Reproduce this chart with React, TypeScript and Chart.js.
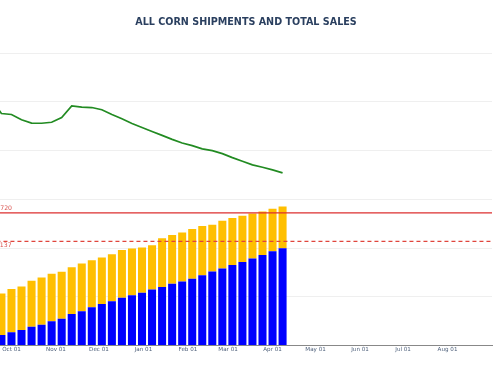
import React, { useEffect, useRef } from "react";
import { Chart, registerables } from "chart.js";

Chart.register(...registerables);

const TITLE = "ALL CORN SHIPMENTS AND TOTAL SALES";

// Weekly report dates (MM-DD) of the marketing year starting Sep 01
const weekDates = [
  "09-24", "10-01", "10-08", "10-15", "10-22", "10-29",
  "11-05", "11-12", "11-19", "11-26",
  "12-03", "12-10", "12-17", "12-24", "12-31",
  "01-07", "01-14", "01-21", "01-28",
  "02-04", "02-11", "02-18", "02-25",
  "03-04", "03-11", "03-18", "03-25",
  "04-01", "04-08",
];

// Accumulated shipments (bottom, blue)
const shipments = [
  219, 274, 321, 388, 429, 498, 552, 648, 703, 784, 852, 907, 981, 1030, 1083,
  1152, 1199, 1267, 1316, 1373, 1444, 1520, 1581, 1655, 1716, 1785, 1859, 1935, 1996,
];

// Total commitments / total sales (top of the stacked bar)
const totalSales = [
  1070, 1158, 1213, 1328, 1397, 1471, 1512, 1608, 1683, 1751, 1806, 1873, 1961, 1990, 2010,
  2057, 2200, 2268, 2317, 2390, 2451, 2480, 2562, 2615, 2664, 2711, 2752, 2807, 2854,
];

// Green line series
const paceDates = ["09-17", ...weekDates];
const paceValues = [
  5040, 4760, 4740, 4632, 4564, 4560, 4580, 4678, 4917, 4891, 4882, 4836, 4740, 4652, 4556,
  4474, 4392, 4311, 4229, 4155, 4100, 4033, 3998, 3937, 3855, 3780, 3706, 3657, 3604, 3542,
];

// Reference levels
const projectionLevel = 2720;
const previousLevel = 2137;

// X-axis ticks
const tickDates = ["10-01", "11-01", "12-01", "01-01", "02-01", "03-01", "04-01", "05-01", "06-01", "07-01", "08-01"];
const tickLabels = ["Oct 01", "Nov 01", "Dec 01", "Jan 01", "Feb 01", "Mar 01", "Apr 01", "May 01", "Jun 01", "Jul 01", "Aug 01"];

// Days from Sep 01 to the first of each month (Sep..Aug)
const MONTH_START: Record<string, number> = {
  "09": 0, "10": 30, "11": 61, "12": 91, "01": 122, "02": 153,
  "03": 181, "04": 212, "05": 242, "06": 273, "07": 303, "08": 334,
};
const dayOf = (md: string) => MONTH_START[md.slice(0, 2)] + parseInt(md.slice(3), 10) - 1;

const X_MIN = 22;
const X_MAX = 365;

const levelLabels = {
  id: "levelLabels",
  afterDatasetsDraw(chart: any) {
    const { ctx, scales } = chart;
    const x = scales.x;
    const y = scales.y;
    ctx.save();
    ctx.font = "6.2px 'DejaVu Sans'";
    ctx.fillStyle = "#d9534f";
    ctx.textAlign = "right";
    ctx.textBaseline = "bottom";
    ctx.fillText(String(projectionLevel), x.getPixelForValue(30.4), y.getPixelForValue(projectionLevel) - 1);
    ctx.textBaseline = "top";
    ctx.fillText(String(previousLevel), x.getPixelForValue(30.1), y.getPixelForValue(previousLevel) + 1);
    ctx.restore();
  },
};

export default function App() {
  const ref = useRef<HTMLCanvasElement | null>(null);

  useEffect(() => {
    if (!ref.current) return;
    const barDays = weekDates.map(dayOf);
    const chart = new Chart(ref.current, {
      type: "bar",
      data: {
        datasets: [
          {
            type: "bar",
            label: "Shipments",
            data: barDays.map((d, i) => ({ x: d, y: shipments[i] })),
            backgroundColor: "#0000ff",
            borderWidth: 0,
            barPercentage: 1,
            categoryPercentage: 0.8,
            stack: "bars",
            order: 2,
          },
          {
            type: "bar",
            label: "Outstanding sales",
            data: barDays.map((d, i) => ({ x: d, y: totalSales[i] - shipments[i] })),
            backgroundColor: "#ffbf00",
            borderWidth: 0,
            barPercentage: 1,
            categoryPercentage: 0.8,
            stack: "bars",
            order: 2,
          },
          {
            type: "line",
            label: "Pace",
            data: paceDates.map((d, i) => ({ x: dayOf(d), y: paceValues[i] })),
            borderColor: "#228b22",
            borderWidth: 1.7,
            pointRadius: 0,
            tension: 0,
            fill: false,
            stack: "pace",
            order: 1,
          },
          {
            type: "line",
            label: "Projection",
            data: [{ x: 0, y: projectionLevel }, { x: X_MAX, y: projectionLevel }],
            borderColor: "#dc2f2f",
            borderWidth: 1.2,
            pointRadius: 0,
            fill: false,
            stack: "proj",
            order: 0,
          },
          {
            type: "line",
            label: "Previous",
            data: [{ x: 0, y: previousLevel }, { x: X_MAX, y: previousLevel }],
            borderColor: "#e0453c",
            borderWidth: 1.4,
            borderDash: [4, 3],
            pointRadius: 0,
            fill: false,
            stack: "prev",
            order: 0,
          },
        ],
      } as any,
      options: {
        animation: false,
        responsive: false,
        layout: { padding: { left: 0, right: 8, top: 0, bottom: 28.7 } },
        plugins: {
          legend: { display: false },
          tooltip: { enabled: false },
          title: {
            display: true,
            text: TITLE,
            color: "#2a3f5f",
            font: { family: "'DejaVu Sans'", size: 9.6, weight: "bold" },
            padding: { top: 17.2, bottom: 24.3 },
          },
        },
        scales: {
          x: {
            type: "linear",
            stacked: true,
            min: X_MIN,
            max: X_MAX,
            offset: false,
            grid: { display: false, drawTicks: false },
            border: { display: true, color: "#888888", width: 1 },
            ticks: {
              autoSkip: false,
              maxRotation: 0,
              padding: 1,
              color: "#4d5f7a",
              font: { family: "'DejaVu Sans'", size: 5.6 },
              callback: (v: any) => {
                const idx = tickDates.findIndex((d) => dayOf(d) === v);
                return idx >= 0 ? tickLabels[idx] : "";
              },
            },
            afterBuildTicks: (scale: any) => {
              scale.ticks = tickDates.map((d) => ({ value: dayOf(d) }));
            },
            afterFit: (scale: any) => {
              scale.paddingLeft = 0;
              scale.paddingRight = 0;
            },
          },
          y: {
            type: "linear",
            stacked: true,
            min: 0,
            max: 6000,
            grid: { color: "#efefef", drawTicks: false },
            border: { display: false },
            ticks: { display: false, stepSize: 1000 },
          },
        },
      } as any,
      plugins: [levelLabels],
    });
    return () => chart.destroy();
  }, []);

  return (
    <div style={{ position: "absolute", left: 0, top: 0, width: 500, height: 383, background: "#ffffff" }}>
      <canvas ref={ref} width={500} height={383} style={{ display: "block" }} />
    </div>
  );
}
